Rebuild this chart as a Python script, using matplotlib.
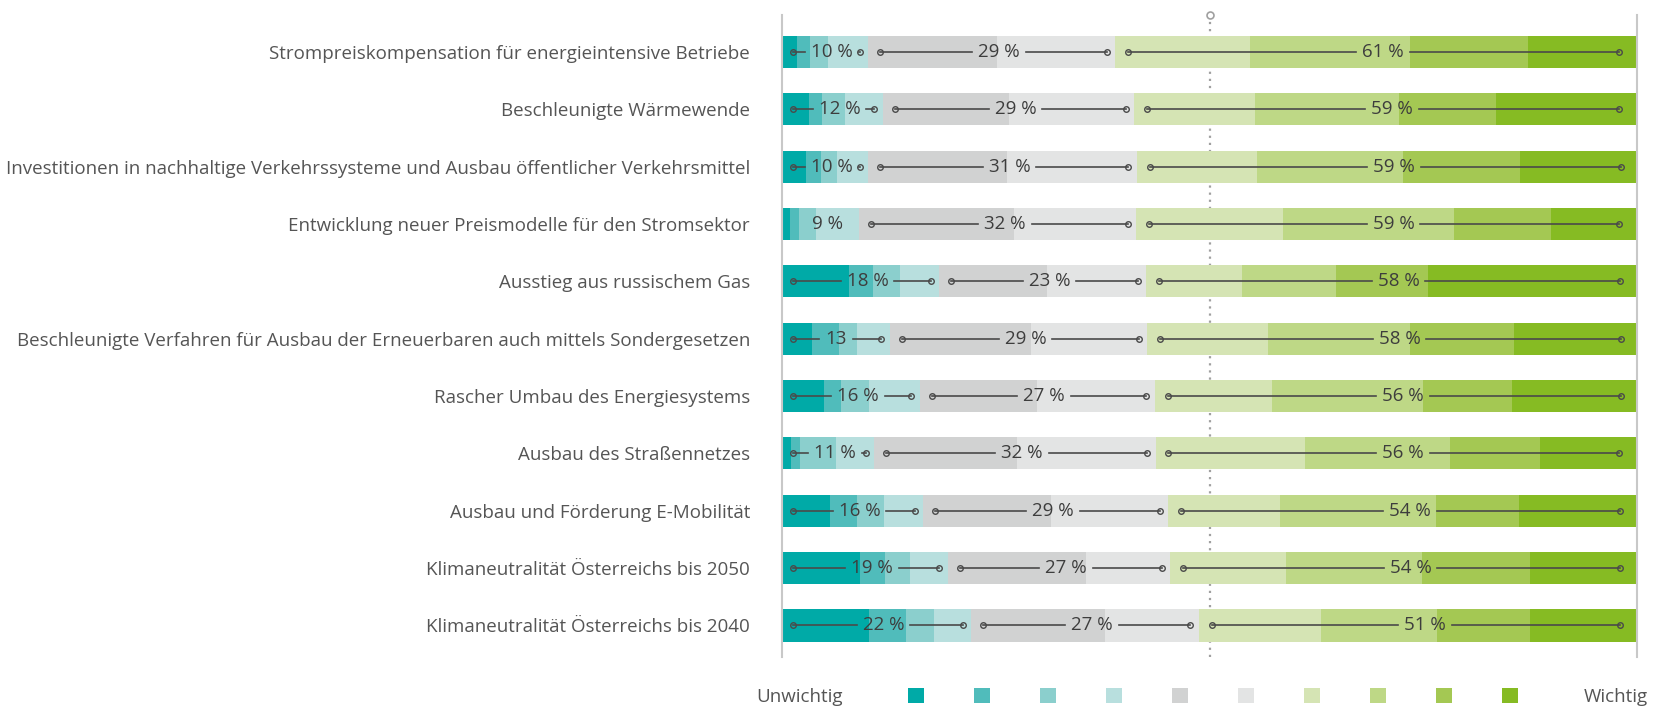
import matplotlib
matplotlib.use("Agg")
import matplotlib.pyplot as plt
import numpy as np
from matplotlib.patches import Rectangle

plt.rcParams["font.family"] = ["Open Sans", "DejaVu Sans"]

categories = [
    "Strompreiskompensation für energieintensive Betriebe",
    "Beschleunigte Wärmewende",
    "Investitionen in nachhaltige Verkehrssysteme und Ausbau öffentlicher Verkehrsmittel",
    "Entwicklung neuer Preismodelle für den Stromsektor",
    "Ausstieg aus russischem Gas",
    "Beschleunigte Verfahren für Ausbau der Erneuerbaren auch mittels Sondergesetzen",
    "Rascher Umbau des Energiesystems",
    "Ausbau des Straßennetzes",
    "Ausbau und Förderung E-Mobilität",
    "Klimaneutralität Österreichs bis 2050",
    "Klimaneutralität Österreichs bis 2040",
]

# shares per answer level (1 = unwichtig ... 10 = wichtig), one value per category
level_1 = [1.8, 3.1, 2.8, 0.9, 7.8, 3.5, 4.9, 1.0, 5.6, 9.1, 10.15]
level_2 = [1.5, 1.6, 1.8, 1.05, 2.9, 3.2, 2.0, 1.05, 3.2, 2.9, 4.3]
level_3 = [2.1, 2.7, 1.8, 2.0, 3.1, 2.1, 3.3, 4.3, 3.1, 2.95, 3.3]
level_4 = [4.7, 4.4, 3.7, 5.1, 4.6, 3.8, 5.9, 4.45, 4.6, 4.45, 4.4]
level_5 = [15.1, 14.7, 16.2, 18.1, 12.6, 16.5, 13.7, 16.7, 15.0, 16.2, 15.6]
level_6 = [13.8, 14.7, 15.2, 14.3, 11.6, 13.6, 13.8, 16.2, 13.7, 9.8, 11.0]
level_7 = [15.7, 14.1, 14.0, 17.2, 11.2, 14.1, 13.7, 17.5, 13.1, 13.5, 14.3]
level_8 = [18.7, 16.9, 17.1, 20.0, 11.0, 16.6, 17.7, 16.9, 18.2, 16.0, 13.5]
level_9 = [13.9, 11.3, 13.7, 11.3, 10.8, 12.2, 10.4, 10.6, 9.7, 12.6, 10.9]
level_10 = [12.6, 16.4, 13.8, 10.0, 24.4, 14.5, 14.7, 11.2, 13.8, 12.5, 12.6]

unwichtig_lbl = ["10 %", "12 %", "10 %", "9 %", "18 %", "13", "16 %", "11 %", "16 %", "19 %", "22 %"]
neutral_lbl = ["29 %", "29 %", "31 %", "32 %", "23 %", "29 %", "27 %", "32 %", "29 %", "27 %", "27 %"]
wichtig_lbl = ["61 %", "59 %", "59 %", "59 %", "58 %", "58 %", "56 %", "56 %", "54 %", "54 %", "51 %"]

colors = ["#00aaa7", "#50bcbb", "#8bcfcd", "#b8dfde", "#d1d2d2",
          "#e3e4e4", "#d5e4b4", "#bed886", "#a4c853", "#86bb23"]

levels = np.array([level_1, level_2, level_3, level_4, level_5,
                   level_6, level_7, level_8, level_9, level_10])
y = np.arange(len(categories))

W, H = 1654, 707
FS = 13.5
fig = plt.figure(figsize=(W / 100, H / 100), dpi=100)
ax = fig.add_axes([782 / W, 1 - 657 / H, 855 / W, 642 / H])

left = np.zeros(len(categories))
for vals, col in zip(levels, colors):
    ax.barh(y, vals, left=left, height=0.56, color=col, linewidth=0)
    left += vals

ax.set_xlim(0, 100)
ax.set_ylim(10.55, -0.645)
ax.set_xticks([])
ax.set_yticks(y)
ax.set_yticklabels(categories, fontsize=FS, color="#555555")
ax.tick_params(axis="y", length=0, pad=23)
for s in ["top", "bottom"]:
    ax.spines[s].set_visible(False)
for s in ["left", "right"]:
    ax.spines[s].set_color("#c8c8c8")
    ax.spines[s].set_linewidth(1.5)

# midpoint marker
ax.plot([50, 50], [10.55, -0.645], color="#a0a0a0", lw=1.6, ls=(0, (1, 2.2)), zorder=0.5)
ax.plot([50], [-0.645], "o", ms=5, mfc="white", mec="#a0a0a0", mew=1.2, clip_on=False, zorder=5)

# group labels with span lines
cum = np.vstack([np.zeros(len(categories)), np.cumsum(levels, axis=0)])
groups = [(0, 4, unwichtig_lbl, 1.3, 1.0), (4, 6, neutral_lbl, 1.4, 1.0), (6, 10, wichtig_lbl, 1.5, 2.0)]
pending = []
for a, b, lbls, lin, rin in groups:
    for i in range(len(categories)):
        x0 = cum[a, i] + lin
        x1 = cum[b, i] - rin
        xc = (cum[a, i] + cum[b, i]) / 2
        off = 5 if "%" in lbls[i] else 0
        t = ax.annotate(lbls[i], (xc, y[i]), xytext=(off, 0), textcoords="offset points",
                        ha="center", va="center", fontsize=FS, color="#3d3d3d", zorder=4)
        if cum[b, i] - cum[a, i] >= 9.5:
            pending.append((t, y[i], x0, x1))

fig.canvas.draw()
r = fig.canvas.get_renderer()
inv = ax.transData.inverted()
gap = 6
for t, yy, x0, x1 in pending:
    bb = t.get_window_extent(r)
    tl = inv.transform((bb.x0 - gap, 0))[0]
    tr = inv.transform((bb.x1 + gap, 0))[0]
    if tl > x0:
        ax.plot([x0, tl], [yy, yy], color="#4a4a4a", lw=1.2, zorder=3)
    if tr < x1:
        ax.plot([tr, x1], [yy, yy], color="#4a4a4a", lw=1.2, zorder=3)
    ax.plot([x0, x1], [yy, yy], "o", ms=4, mfc="none", mec="#4a4a4a", mew=1.0, lw=0, zorder=3)

# legend
base = 1 - 702.5 / H
fig.text(756 / W, base, "Unwichtig", ha="left", va="baseline", fontsize=FS, color="#555555")
fig.text(1648 / W, base, "Wichtig", ha="right", va="baseline", fontsize=FS, color="#555555")
for k, col in enumerate(colors):
    fig.add_artist(Rectangle(((908 + 66 * k) / W, 1 - 703 / H), 16 / W, 15 / H,
                             transform=fig.transFigure, color=col, lw=0))

fig.savefig("out.png", dpi=100)
